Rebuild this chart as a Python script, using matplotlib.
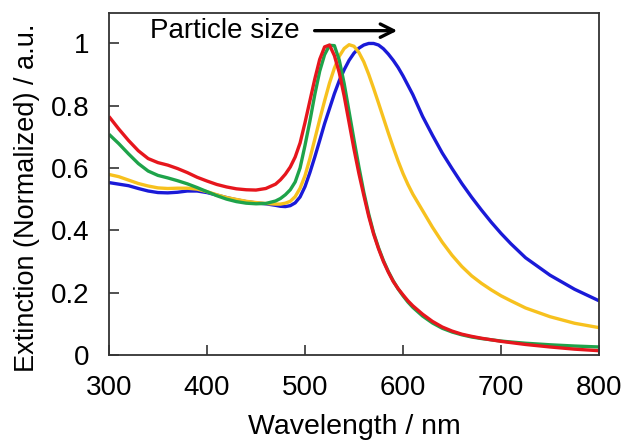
import matplotlib
matplotlib.use("Agg")
import matplotlib.pyplot as plt

plt.rcParams['font.family'] = ['Liberation Sans', 'DejaVu Sans']

# wavelength grid (nm), shared by all four spectra
wavelength = [300, 310, 320, 330, 340, 350, 360, 370, 380, 390, 400, 410, 420, 430, 440, 450, 460,
              470, 475, 480, 485, 490, 495, 500, 505, 510, 515, 520, 525, 530, 535, 540, 545,
              550, 555, 560, 565, 570, 575, 580, 585, 590, 595, 600, 605, 610,
              620, 630, 640, 650, 660, 670, 680, 690, 700, 710, 725, 750, 775, 800]

red = [0.765, 0.725, 0.688, 0.655, 0.630, 0.617, 0.609, 0.598, 0.585, 0.570, 0.558, 0.547,
       0.539, 0.533, 0.530, 0.529, 0.534,
       0.548, 0.562, 0.580, 0.603, 0.635, 0.680, 0.745, 0.815, 0.885, 0.948, 0.988, 0.994,
       0.960, 0.905, 0.830, 0.745, 0.660, 0.582, 0.512, 0.445, 0.388, 0.341, 0.300, 0.266,
       0.236, 0.213, 0.193, 0.174, 0.158,
       0.131, 0.108, 0.090, 0.077, 0.067, 0.060, 0.054, 0.049, 0.044, 0.040, 0.034, 0.026,
       0.019, 0.014]

green = [0.708, 0.678, 0.645, 0.614, 0.590, 0.576, 0.568, 0.559, 0.549, 0.537, 0.524, 0.511,
         0.500, 0.492, 0.487, 0.485, 0.486,
         0.494, 0.502, 0.514, 0.530, 0.555, 0.600, 0.672, 0.750, 0.835, 0.910, 0.963, 0.993,
         0.992, 0.945, 0.870, 0.780, 0.690, 0.603, 0.522, 0.452, 0.392, 0.344, 0.303, 0.268,
         0.238, 0.212, 0.190, 0.170, 0.153,
         0.125, 0.103, 0.086, 0.074, 0.065, 0.058, 0.053, 0.049, 0.045, 0.042, 0.038, 0.033,
         0.029, 0.026]

yellow = [0.579, 0.572, 0.561, 0.550, 0.542, 0.536, 0.534, 0.535, 0.535, 0.532, 0.524, 0.514,
          0.505, 0.499, 0.493, 0.489, 0.486,
          0.484, 0.484, 0.487, 0.493, 0.508, 0.535, 0.575, 0.630, 0.692, 0.755, 0.815, 0.872,
          0.920, 0.958, 0.983, 0.995, 0.990, 0.970, 0.940, 0.900, 0.855, 0.808, 0.760, 0.712,
          0.666, 0.622, 0.582, 0.547, 0.516,
          0.463, 0.410, 0.362, 0.320, 0.284, 0.254, 0.230, 0.209, 0.190, 0.174, 0.151, 0.123,
          0.102, 0.088]

blue = [0.553, 0.548, 0.543, 0.534, 0.526, 0.521, 0.520, 0.522, 0.526, 0.526, 0.521, 0.513,
        0.505, 0.498, 0.492, 0.488, 0.485,
        0.480, 0.477, 0.476, 0.479, 0.488, 0.507, 0.540, 0.585, 0.635, 0.688, 0.742, 0.790,
        0.838, 0.880, 0.915, 0.945, 0.968, 0.984, 0.994, 0.999, 0.999, 0.994, 0.982, 0.965,
        0.945, 0.922, 0.895, 0.865, 0.835,
        0.765, 0.705, 0.648, 0.598, 0.550, 0.506, 0.465, 0.426, 0.390, 0.357, 0.312, 0.256,
        0.211, 0.174]

series = [(blue, '#1a1ad8'), (yellow, '#f7c11e'), (green, '#1ea34a'), (red, '#e6161d')]

fig = plt.figure(figsize=(6.26, 4.4), dpi=100)
ax = fig.add_axes([0.174, 0.193, 0.783, 0.777])

for vals, col in series:
    ax.plot(wavelength, vals, color=col, linewidth=2.4,
            solid_joinstyle='round', solid_capstyle='butt')

ax.set_xlim(300, 800)
ax.set_ylim(0, 1.096)
ax.set_xticks([300, 400, 500, 600, 700, 800])
ax.set_yticks([0, 0.2, 0.4, 0.6, 0.8, 1.0])
ax.set_yticklabels(['0', '0.2', '0.4', '0.6', '0.8', '1'])
ax.tick_params(direction='in', length=7, width=1.2, color='#333333',
               labelsize=20, pad=14, top=False, right=False)
for s in ax.spines.values():
    s.set_color('#333333')
    s.set_linewidth(1.3)

ax.set_xlabel('Wavelength / nm', fontsize=20.5, labelpad=10)
ax.set_ylabel('Extinction (Normalized) / a.u.', fontsize=19.5)
ax.yaxis.set_label_coords(-0.141, 0.46)

ax.text(342, 1.04, 'Particle size', fontsize=20, ha='left', va='center')
ax.annotate('', xy=(597, 1.04), xytext=(507, 1.04),
            arrowprops=dict(arrowstyle='->', lw=2.4, color='black',
                            mutation_scale=24))

fig.savefig('out.png', dpi=100)
